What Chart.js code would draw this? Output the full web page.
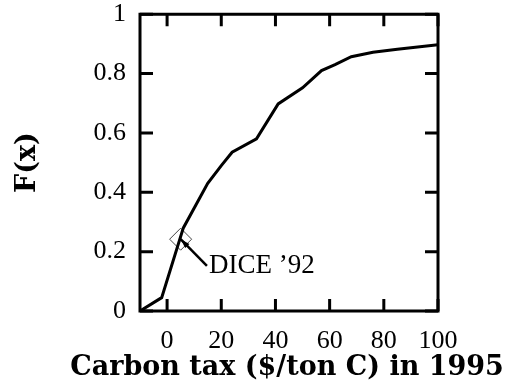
<!DOCTYPE html>
<html>
<head>
<meta charset="utf-8">
<script src="https://cdn.jsdelivr.net/npm/chart.js@4.4.0/dist/chart.umd.min.js"></script>
<style>
  html, body { margin: 0; padding: 0; background: #fff; }
</style>
</head>
<body>
<canvas id="myChart" width="509" height="389"></canvas>
<script>
// данные кривой
const taxValues = [-10, -2, 6, 15, 20, 24, 33, 41, 50, 57, 62, 68, 76, 85, 100]
const probValues = [0, 0.045, 0.28, 0.43, 0.49, 0.535, 0.58, 0.698, 0.752, 0.81, 0.83, 0.857, 0.872, 0.882, 0.897]

// точка DICE '92
const diceTax = [5]
const diceProb = [0.242]
const diceLabel = 'DICE ’92'
const labelAt = [14.7, 0.152]

// подписи осей
const xTicks = [0, 20, 40, 60, 80, 100]
const yTicks = [0, 0.2, 0.4, 0.6, 0.8, 1]
const xTitle = 'Carbon tax ($/ton C) in 1995'

const curve = taxValues.map((x, i) => ({x: x, y: probValues[i]}))
const dice = diceTax.map((x, i) => ({x: x, y: diceProb[i]}))

// рамка, внутренние засечки, стрелка и подпись оси X
const framePlugin = {
    id: 'frame',
    afterDatasetsDraw(chart) {
        const {ctx, chartArea: a, scales: {x, y}} = chart
        ctx.save()
        ctx.strokeStyle = '#000'
        ctx.lineWidth = 3
        ctx.strokeRect(a.left, a.top, a.right - a.left, a.bottom - a.top)
        ctx.beginPath()
        xTicks.forEach(v => {
            const px = x.getPixelForValue(v)
            ctx.moveTo(px, a.bottom); ctx.lineTo(px, a.bottom - 12)
            ctx.moveTo(px, a.top); ctx.lineTo(px, a.top + 12)
        })
        yTicks.forEach(v => {
            const py = y.getPixelForValue(v)
            ctx.moveTo(a.left, py); ctx.lineTo(a.left + 13, py)
            ctx.moveTo(a.right, py); ctx.lineTo(a.right - 13, py)
        })
        ctx.stroke()

        // стрелка
        const x0 = x.getPixelForValue(labelAt[0]), y0 = y.getPixelForValue(labelAt[1])
        const x1 = x.getPixelForValue(diceTax[0]), y1 = y.getPixelForValue(diceProb[0])
        const ang = Math.atan2(y1 - y0, x1 - x0)
        ctx.lineWidth = 2.5
        ctx.beginPath()
        ctx.moveTo(x0, y0); ctx.lineTo(x1, y1)
        ctx.stroke()
        ctx.beginPath()
        ctx.moveTo(x1, y1)
        ctx.lineTo(x1 - 10 * Math.cos(ang - 0.3), y1 - 10 * Math.sin(ang - 0.3))
        ctx.lineTo(x1 - 10 * Math.cos(ang + 0.3), y1 - 10 * Math.sin(ang + 0.3))
        ctx.closePath()
        ctx.fillStyle = '#000'
        ctx.fill()

        ctx.font = '27px "Liberation Serif"'
        ctx.textBaseline = 'middle'
        ctx.textAlign = 'left'
        ctx.fillText(diceLabel, x0 + 2, y0)

        // подпись оси X (шире области графика, поэтому рисуем сами)
        ctx.font = 'bold 27px "DejaVu Serif"'
        ctx.textAlign = 'center'
        ctx.fillText(xTitle, (a.left + a.right) / 2 - 2, 368)
        ctx.restore()
    }
}

const ctx = document.getElementById('myChart').getContext('2d')

const myChart = new Chart(ctx, {
    type: 'scatter',
    data: {
        datasets: [{
            data: curve,
            showLine: true,
            borderColor: '#000',
            borderWidth: 3,
            pointRadius: 0,
            tension: 0
        }, {
            data: dice,
            pointStyle: 'rectRot',
            pointRadius: 11,
            pointBorderWidth: 1,
            pointBorderColor: '#444',
            pointBackgroundColor: 'rgba(0,0,0,0)'
        }]
    },
    options: {
        responsive: false,
        animation: false,
        devicePixelRatio: 1,
        layout: { padding: { top: 14, right: 71, left: 0, bottom: 0 } },
        plugins: { legend: { display: false }, tooltip: { enabled: false } },
        scales: {
            x: {
                type: 'linear',
                min: -10,
                max: 100,
                grid: { display: false, drawTicks: false },
                border: { display: false },
                afterBuildTicks: s => { s.ticks = xTicks.map(v => ({value: v})) },
                afterFit: s => { s.height = 78 },
                ticks: {
                    color: '#000',
                    padding: 15,
                    maxRotation: 0,
                    autoSkip: false,
                    font: { family: '"Liberation Serif"', size: 26 },
                    callback: v => String(v)
                }
            },
            y: {
                min: 0,
                max: 1,
                grid: { display: false, drawTicks: false },
                border: { display: false },
                afterBuildTicks: s => { s.ticks = yTicks.map(v => ({value: v})) },
                afterFit: s => { s.width = 140 },
                ticks: {
                    color: '#000',
                    padding: 14,
                    autoSkip: false,
                    // маленькая высота строки, чтобы верх графика не сдвигался вниз
                    font: { family: '"Liberation Serif"', size: 26, lineHeight: 0.02 },
                    callback: v => String(v)
                },
                title: {
                    display: true,
                    text: 'F(x)',
                    color: '#000',
                    font: { family: '"DejaVu Serif"', size: 27, weight: 'bold' },
                    padding: { top: 12, bottom: 0 }
                }
            }
        }
    },
    plugins: [framePlugin]
})
</script>
</body>
</html>
